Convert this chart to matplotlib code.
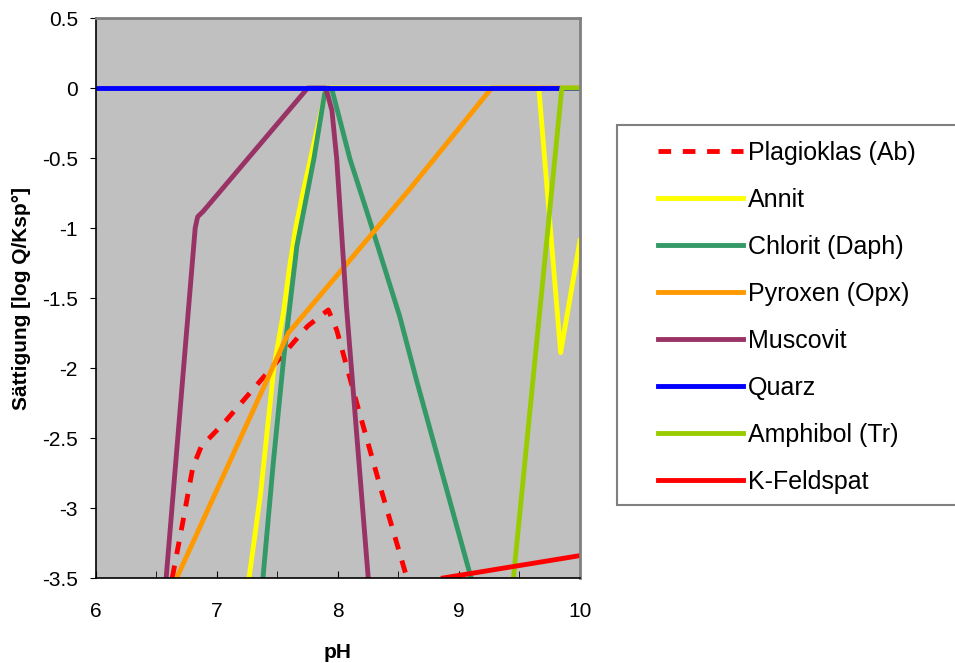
import numpy as np
import matplotlib
matplotlib.use("Agg")
import matplotlib.pyplot as plt
from matplotlib.patches import Rectangle

plt.rcParams['font.family'] = ['Liberation Sans', 'DejaVu Sans']

# -----------------------------
# Data
# -----------------------------

plag_ph = [6.63, 6.72, 6.80, 6.87, 7.05, 7.27, 7.45, 7.60, 7.75, 7.92, 7.99, 8.155, 8.35, 8.57]
plag_sat = [-3.5, -3.09, -2.71, -2.56, -2.40, -2.18, -2.00, -1.85, -1.70, -1.585, -1.73, -2.25, -2.85, -3.5]

annit_ph = [7.265, 7.36, 7.47, 7.55, 7.60, 7.65, 7.71, 7.80, 7.88, 7.90, 9.66, 9.84, 10.0]
annit_sat = [-3.5, -2.9, -2.0, -1.6, -1.28, -1.0, -0.75, -0.4, -0.1, 0.0, 0.0, -1.89, -1.09]

chlorit_ph = [7.38, 7.465, 7.55, 7.66, 7.80, 7.89, 7.92, 7.95, 8.10, 8.26, 8.51, 8.65, 9.10]
chlorit_sat = [-3.5, -2.68, -1.94, -1.13, -0.51, -0.04, 0.0, -0.01, -0.51, -0.94, -1.63, -2.09, -3.5]

pyrox_ph = [6.667, 7.107, 7.59, 8.595, 9.27, 10.0]
pyrox_sat = [-3.5, -2.666, -1.75, -0.72, 0.0, 0.0]

musc_ph = [6.58, 6.82, 6.84, 6.887, 7.75, 7.90, 7.95, 7.99, 8.07, 8.25]
musc_sat = [-3.5, -1.0, -0.92, -0.88, 0.0, 0.0, -0.16, -0.51, -1.56, -3.5]

quarz_ph = [6.0, 10.0]
quarz_sat = [0.0, 0.0]

amph_ph = [9.45, 9.85, 10.0]
amph_sat = [-3.5, 0.0, 0.0]

kfs_ph = [8.87, 10.0]
kfs_sat = [-3.5, -3.34]

# -----------------------------
# Plot
# -----------------------------

fig = plt.figure(figsize=(9.55, 6.63), dpi=100)
ax = fig.add_axes([0.1005, 0.1282, 0.5068, 0.8446])
ax.set_facecolor('#C0C0C0')

lw = 3.5
ax.plot(plag_ph, plag_sat, color='#FF0000', lw=lw, ls=(0, (2.6, 2.4)), label='Plagioklas (Ab)')
ax.plot(annit_ph, annit_sat, color='#FFFF00', lw=lw, label='Annit')
ax.plot(chlorit_ph, chlorit_sat, color='#339966', lw=lw, label='Chlorit (Daph)')
ax.plot(pyrox_ph, pyrox_sat, color='#FF9900', lw=lw, label='Pyroxen (Opx)')
ax.plot(musc_ph, musc_sat, color='#993366', lw=lw, label='Muscovit')
ax.plot(quarz_ph, quarz_sat, color='#0000FF', lw=lw, label='Quarz')
ax.plot(amph_ph, amph_sat, color='#99CC00', lw=lw, label='Amphibol (Tr)')
ax.plot(kfs_ph, kfs_sat, color='#FF0000', lw=lw, label='K-Feldspat')

ax.set_xlim(6, 10)
ax.set_ylim(-3.5, 0.5)
ax.set_xticks([6, 7, 8, 9, 10])
ax.set_xticks(np.arange(6, 10.01, 0.5), minor=True)
ax.set_yticks(np.arange(-3.5, 0.51, 0.5))
ax.set_yticklabels(['-3.5', '-3', '-2.5', '-2', '-1.5', '-1', '-0.5', '0', '0.5'])
ax.tick_params(axis='x', which='both', direction='in', length=5, labelsize=15, pad=17)
ax.tick_params(axis='y', direction='out', length=4, labelsize=15, pad=9)

for side in ['top', 'right']:
    ax.spines[side].set_color('#808080')
    ax.spines[side].set_linewidth(2)
for side in ['left', 'bottom']:
    ax.spines[side].set_color('black')
    ax.spines[side].set_linewidth(1.2)

ax.set_xlabel('pH', fontsize=15, fontweight='bold', labelpad=16)
ax.set_ylabel('Sättigung [log Q/Ksp°]', fontsize=15, fontweight='bold', labelpad=8)

# legend frame drawn separately, legend entries placed inside it
fig.patches.append(Rectangle((0.646, 0.2383), 0.358, 0.573, transform=fig.transFigure,
                             facecolor='white', edgecolor='#808080', linewidth=1.5))
leg = fig.legend(loc='upper left', bbox_to_anchor=(658 / 955, 1 - 141 / 663),
                 fontsize=18, frameon=False, handlelength=3.4, handletextpad=0.2,
                 labelspacing=0.92, borderpad=0, borderaxespad=0)

plt.savefig('out.png', dpi=100)
